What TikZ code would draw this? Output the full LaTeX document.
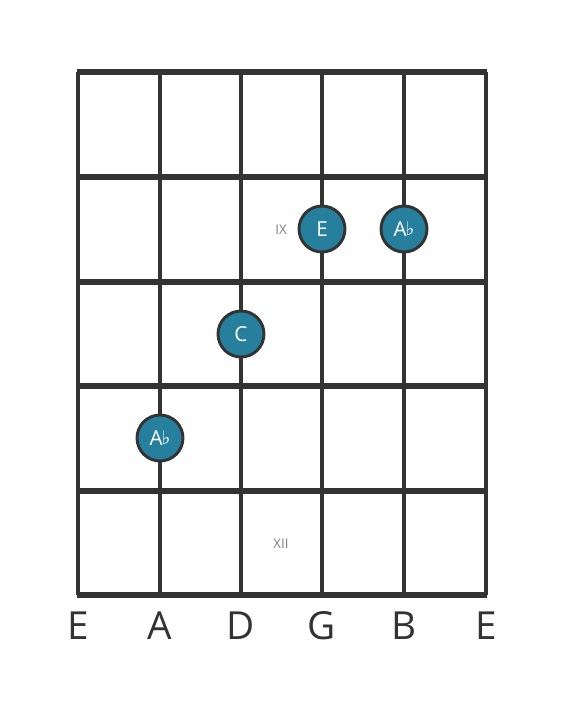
\documentclass[tikz,border=0pt]{standalone}
\usepackage{fontspec}
\setmainfont{Open Sans}
\newfontfamily\symfont{DejaVu Sans}
\definecolor{gridc}{HTML}{333333}
\definecolor{notec}{HTML}{267F9C}
\definecolor{romc}{HTML}{808080}
\newcommand{\flatsym}{{\symfont\raisebox{0.05em}{\fontsize{14pt}{14pt}\selectfont ♭}}}
\begin{document}
\begin{tikzpicture}[x=0.75pt,y=-0.75pt,
  fretline/.style={draw=gridc,line width=3.9pt},
  stringline/.style={draw=gridc,line width=2.6pt},
  note/.style={circle,fill=notec,draw=gridc,line width=2.2pt,minimum size=34.5pt,inner sep=0pt,text=white,font=\fontsize{15.5pt}{15.5pt}\selectfont},
  roman/.style={text=romc,font=\fontsize{10pt}{10pt}\selectfont,inner sep=0pt},
  strlabel/.style={text=gridc,font=\fontsize{29pt}{29pt}\selectfont,inner sep=0pt}]
\useasboundingbox (0,0) rectangle (566,711);
\fill[white] (0,0) rectangle (566,711);
% strings
\foreach \i/\x in {1/78,2/160,3/241,4/322,5/404,6/486}{
  \coordinate (s\i t) at (\x,72);
  \coordinate (s\i b) at (\x,595);
  \draw[stringline] (s\i t) -- (s\i b);
}
% frets
\foreach \j/\y in {0/72,1/177,2/282,3/386,4/491,5/595}{
  \coordinate (f\j l) at (76.7,\y);
  \coordinate (f\j r) at (487.3,\y);
  \draw[fretline,line cap=butt] (f\j l) -- (f\j r);
}
% notes
\node[note] (n1) at (322,229) {E};
\node[note] (n2) at (404,229) {A\kern-0.05em\flatsym};
\node[note] (n3) at (241,334) {C};
\node[note] (n4) at (160,438) {A\kern-0.05em\flatsym};
% fret markers
\node[roman] (ix) at (281,230) {IX};
\node[roman] (xii) at (281,544) {XII};
% string names
\foreach \i/\x/\t in {1/78/E,2/160/A,3/241/D,4/322/G,5/404/B,6/486/E}{
  \node[strlabel] (l\i) at (\x,626) {\t};
}
\end{tikzpicture}
\end{document}
